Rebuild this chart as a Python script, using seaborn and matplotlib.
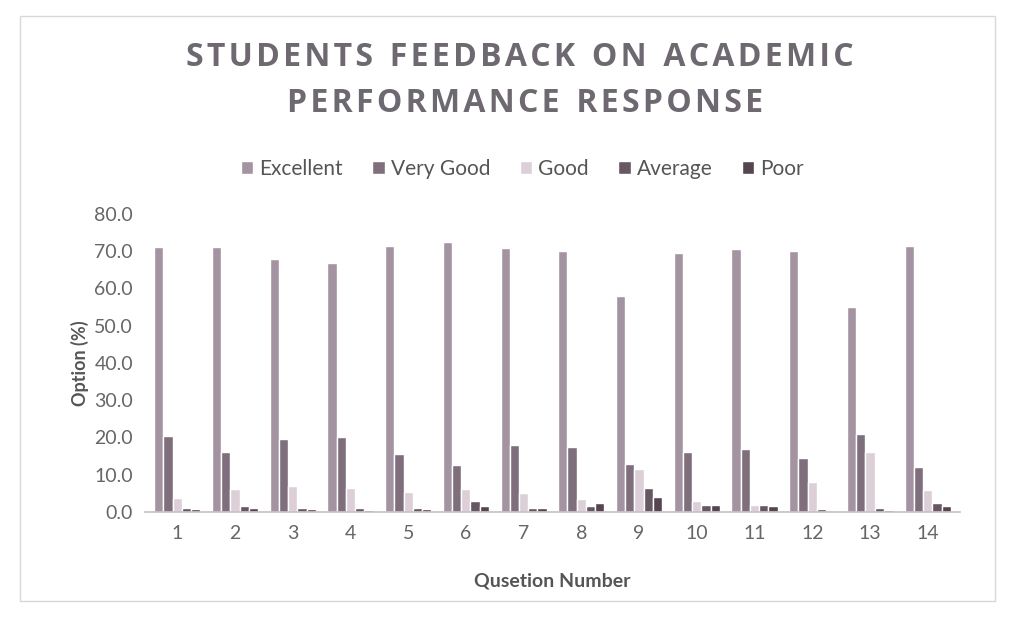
import pandas as pd
import matplotlib.pyplot as plt
import seaborn as sns
from matplotlib.patches import Rectangle

# -----------------------------------------------
# DATA
# -----------------------------------------------
questions = [str(i) for i in range(1, 15)]
options = ["Excellent", "Very Good", "Good", "Average", "Poor"]

excellent = [71.0, 71.2, 68.0, 66.8, 71.5, 72.5, 70.8, 70.0, 58.0, 69.5, 70.5, 70.0, 55.0, 71.5]
very_good = [20.3, 16.2, 19.5, 20.0, 15.5, 12.5, 18.0, 17.5, 13.0, 16.0, 17.0, 14.5, 21.0, 12.0]
good = [3.8, 6.2, 7.0, 6.5, 5.5, 6.2, 5.0, 3.5, 11.5, 3.0, 2.0, 8.0, 16.0, 6.0]
average = [1.2, 1.5, 1.0, 1.0, 1.0, 3.0, 1.0, 1.5, 6.5, 2.0, 2.0, 0.8, 1.0, 2.5]
poor = [0.8, 1.0, 0.8, 0.5, 0.7, 1.5, 1.0, 2.5, 4.0, 1.8, 1.5, 0.3, 0.5, 1.5]

colors = ["#a494a2", "#7f6f7d", "#dccfd8", "#665763", "#55454f"]

# long-form table for seaborn
series = [excellent, very_good, good, average, poor]
rows = []
for opt, vals in zip(options, series):
    for q, v in zip(questions, vals):
        rows.append({"Question": q, "Option": opt, "Value": v})
df = pd.DataFrame(rows)

# -----------------------------------------------
# FIGURE
# -----------------------------------------------
sns.set_theme(style="white")
plt.rcParams["font.family"] = ["Lato", "DejaVu Sans"]

fig = plt.figure(figsize=(10.1, 6.29), dpi=100)
ax = fig.add_axes([0.144, 0.186, 0.806, 0.474])

sns.barplot(data=df, x="Question", y="Value", hue="Option",
            order=questions, hue_order=options, palette=colors,
            width=0.8, saturation=1, ax=ax)

ax.set_ylim(0, 80)
ax.set_yticks(range(0, 81, 10))
ax.set_yticklabels([f"{v:.1f}" for v in range(0, 81, 10)])
ax.set_xlim(-0.55, 13.55)

for s in ["top", "right", "left"]:
    ax.spines[s].set_visible(False)
ax.spines["bottom"].set_color("#c8c0c6")
ax.tick_params(axis="both", length=0, labelsize=14, colors="#666666", pad=9)

ax.set_ylabel("Option (%)", fontsize=13, fontweight="bold", color="#555555", labelpad=4)
ax.set_xlabel("Qusetion Number", fontsize=14, fontweight="bold", color="#555555", labelpad=22)

ax.legend(loc="lower center", bbox_to_anchor=(0.463, 1.055), ncol=5, frameon=False,
          fontsize=15, handlelength=0.6, handleheight=0.6, handletextpad=0.3,
          columnspacing=1.4, labelcolor="#555555")

# letter-spaced title, as in the scanned original
title_kw = dict(ha="center", va="center", fontsize=23, fontweight="bold",
                color="#6e6870", family=["Open Sans", "DejaVu Sans"])
fig.text(0.515, 0.908, "S T U D E N T S   F E E D B A C K   O N   A C A D E M I C"
         .replace("   ", "\u2003").replace(" ", "\u200a").replace("\u2003", "  "), **title_kw)
fig.text(0.52, 0.836, "P E R F O R M A N C E   R E S P O N S E"
         .replace("   ", "\u2003").replace(" ", "\u200a").replace("\u2003", "  "), **title_kw)

# faint frame of the chart area in the scan
fig.patches.append(Rectangle((0.02, 0.045), 0.965, 0.93, transform=fig.transFigure,
                             fill=False, edgecolor="#d8d8d8", linewidth=1))

plt.savefig("out.png", dpi=100)
plt.close()
